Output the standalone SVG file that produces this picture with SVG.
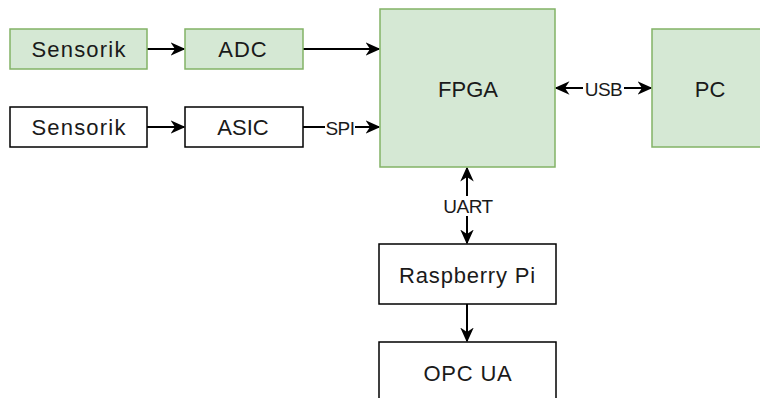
<svg xmlns="http://www.w3.org/2000/svg" width="760" height="398" viewBox="0 0 760 398">
  <style>
    .green rect { fill: #d5e8d4; stroke: #82b366; stroke-width: 1.5; }
    .plain rect { fill: #ffffff; stroke: #000000; stroke-width: 1.5; }
    text { font-family: "Liberation Sans", Arial, sans-serif; font-size: 22px; fill: #1a1a1a; text-anchor: middle; dominant-baseline: central; }
    .edge { stroke: #000000; stroke-width: 2; fill: none; }
    .lbl { font-size: 19px; letter-spacing: -0.5px; }
    .lblbg { fill: #ffffff; stroke: none; }
  </style>
  <defs>
    <marker id="arrow" viewBox="0 0 10 10" refX="9" refY="5" markerWidth="15" markerHeight="15" markerUnits="userSpaceOnUse" orient="auto-start-reverse">
      <path d="M0,0.5 L10,5 L0,9.5 L3,5 Z" fill="#000000"/>
    </marker>
  </defs>
  <rect width="760" height="398" fill="#ffffff"/>

  <!-- connectors -->
  <g id="connectors">
    <line class="edge" x1="147" y1="49" x2="184" y2="49" marker-end="url(#arrow)"/>
    <line class="edge" x1="303" y1="49" x2="379" y2="49" marker-end="url(#arrow)"/>
    <line class="edge" x1="147" y1="127" x2="184" y2="127" marker-end="url(#arrow)"/>
    <line class="edge" x1="303" y1="127" x2="379" y2="127" marker-end="url(#arrow)"/>
    <line class="edge" x1="556" y1="88" x2="651" y2="88" marker-start="url(#arrow)" marker-end="url(#arrow)"/>
    <line class="edge" x1="467" y1="168" x2="467" y2="243" marker-start="url(#arrow)" marker-end="url(#arrow)"/>
    <line class="edge" x1="467" y1="304" x2="467" y2="341" marker-end="url(#arrow)"/>
    <!-- edge labels -->
    <rect class="lblbg" x="325" y="118" width="30" height="18"/>
    <text class="lbl" x="340" y="128">SPI</text>
    <rect class="lblbg" x="583" y="79" width="41" height="18"/>
    <text class="lbl" x="603.5" y="89">USB</text>
    <rect class="lblbg" x="441" y="196" width="53" height="20"/>
    <text class="lbl" x="468" y="206">UART</text>
  </g>

  <g id="sensorik1" class="green">
    <rect x="10" y="29" width="137" height="40"/>
    <text x="79" y="49" letter-spacing="1.2">Sensorik</text>
  </g>
  <g id="adc" class="green">
    <rect x="185" y="29" width="118" height="40"/>
    <text x="243" y="49" letter-spacing="1">ADC</text>
  </g>
  <g id="sensorik2" class="plain">
    <rect x="10" y="107" width="137" height="40"/>
    <text x="79" y="127" letter-spacing="1.2">Sensorik</text>
  </g>
  <g id="asic" class="plain">
    <rect x="185" y="107" width="118" height="40"/>
    <text x="243" y="127">ASIC</text>
  </g>
  <g id="fpga" class="green">
    <rect x="380" y="9" width="175" height="158"/>
    <text x="468" y="89">FPGA</text>
  </g>
  <g id="pc" class="green">
    <rect x="652" y="29" width="116" height="118"/>
    <text x="710" y="89">PC</text>
  </g>
  <g id="raspberry" class="plain">
    <rect x="379" y="244" width="177" height="60"/>
    <text x="467.5" y="275" letter-spacing="0.8">Raspberry Pi</text>
  </g>
  <g id="opcua" class="plain">
    <rect x="379" y="342" width="177" height="62"/>
    <text x="468" y="373" letter-spacing="0.8">OPC UA</text>
  </g>
</svg>
